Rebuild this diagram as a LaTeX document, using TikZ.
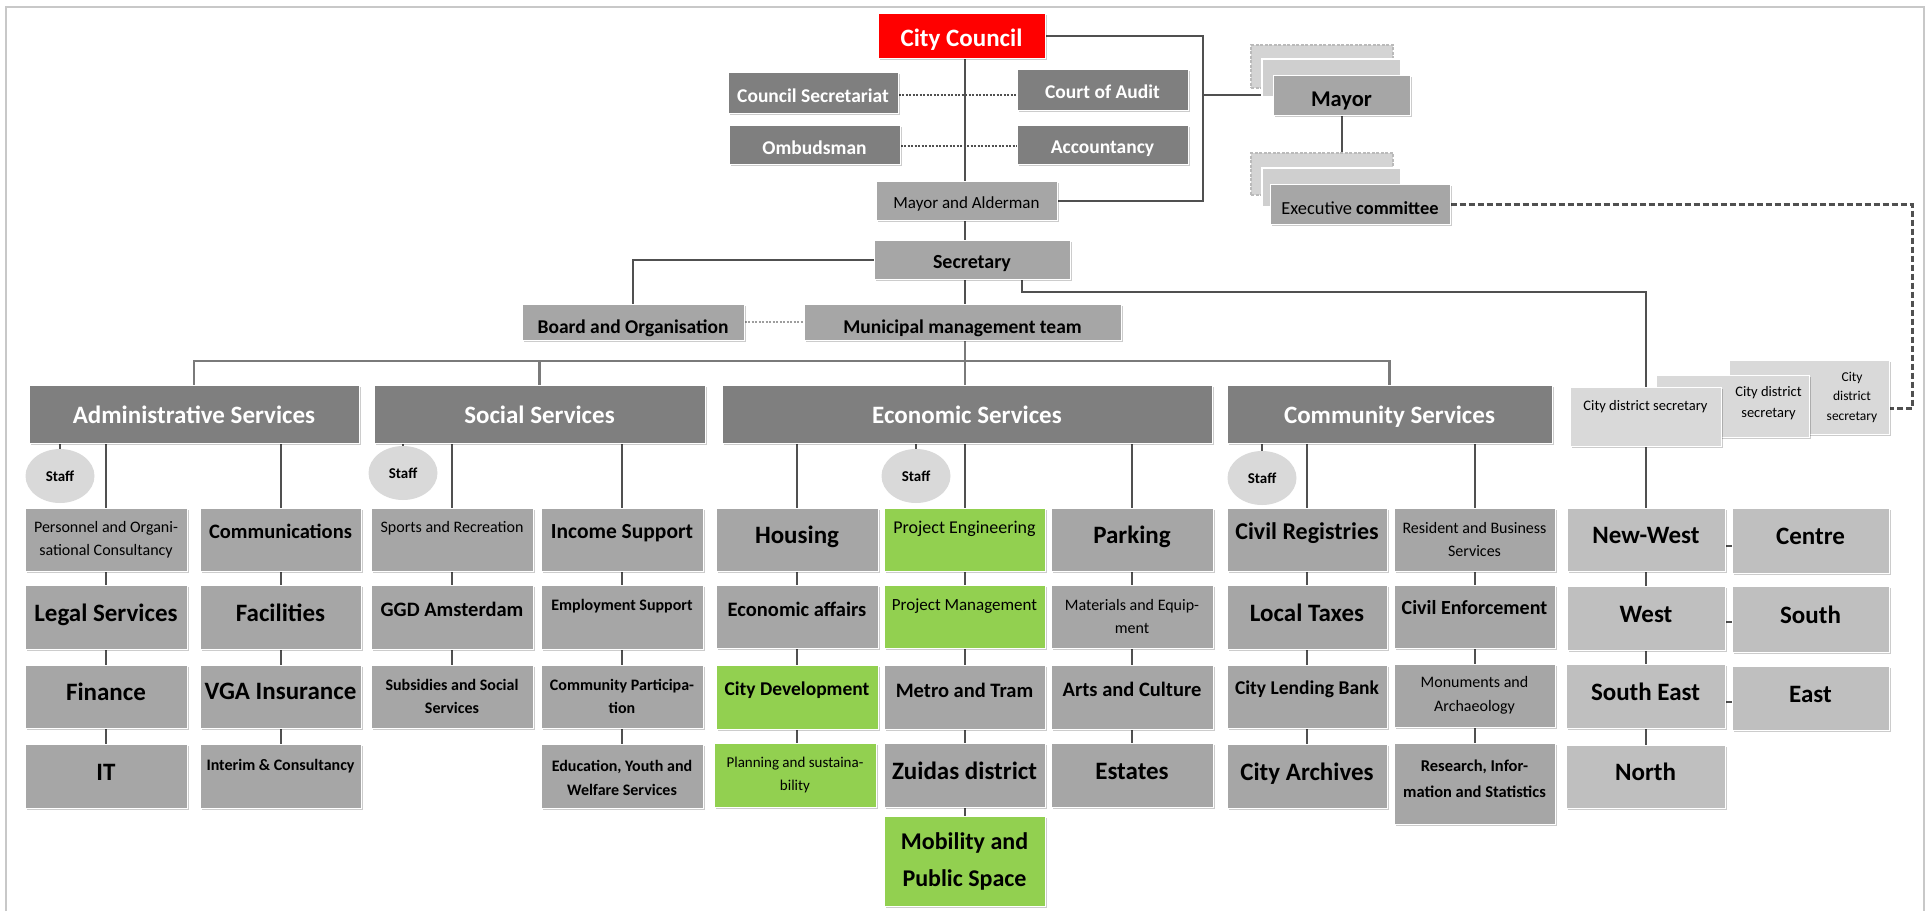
\documentclass[tikz,border=0pt]{standalone}
\usepackage{fontspec}
\setmainfont{Carlito}
\usetikzlibrary{shapes.geometric,shadows}
\pgfdeclarelayer{back}
\pgfsetlayers{back,main}

\definecolor{fillDark}{HTML}{7F7F7F}
\definecolor{fillMid}{HTML}{A6A6A6}
\definecolor{fillLight}{HTML}{BFBFBF}
\definecolor{fillPale}{HTML}{D9D9D9}
\definecolor{fillGreen}{HTML}{92D050}
\definecolor{fillRed}{HTML}{FF0000}
\definecolor{lineC}{HTML}{505050}
\definecolor{busC}{HTML}{7A7A7A}
\definecolor{frameC}{HTML}{C8C8C8}

% box drawn from its corners, with its label as a separate node shifted vertically
\newcommand\orgbox[9]{%
  \node[boxbase,#2,minimum width={#5-#3},minimum height={#6-#4}] (#1) at ({(#3+#5)/2},{(#4+#6)/2}) {};%
  \node[#7] (#1-t) at ([yshift=#8pt]#1.center) {#9};}
\newcommand\plainbox[6]{%
  \node[#2,minimum width={#5-#3},minimum height={#6-#4},inner sep=0pt] (#1) at ({(#3+#5)/2},{(#4+#6)/2}) {};}

\tikzset{
  boxbase/.style={rectangle,inner sep=0pt,draw=white,line width=1pt,
    drop shadow={shadow xshift=1.5pt,shadow yshift=-2pt,fill=black,opacity=.2}},
  cDark/.style={fill=fillDark},
  cMid/.style={fill=fillMid},
  cLight/.style={fill=fillLight},
  cPale/.style={fill=fillPale},
  cGreen/.style={fill=fillGreen},
  cRed/.style={fill=fillRed},
  stackback/.style={fill=black!17,draw=black!27,line width=1.2pt,dash pattern=on 3pt off 1.5pt},
  stackmid/.style={fill=black!19,draw=white,line width=1.5pt},
  tw/.style={text=white,inner sep=0pt},
  tb/.style={text=black,inner sep=0pt},
  ml/.style={align=center},
  % fonts (sizes in px of the drawing)
  fA/.style={font=\fontsize{25}{30}\selectfont\bfseries,text height=16pt,text depth=0pt},
  fA2/.style={font=\fontsize{24}{29}\selectfont\bfseries,text height=15.5pt,text depth=0pt},
  fB/.style={font=\fontsize{20.5}{25}\selectfont\bfseries,text height=13.2pt,text depth=0pt},
  fB2/.style={font=\fontsize{21.5}{26}\selectfont\bfseries,text height=13.8pt,text depth=0pt},
  fC/.style={font=\fontsize{19.5}{24}\selectfont\bfseries,text height=12.6pt,text depth=0pt},
  fD/.style={font=\fontsize{20}{24}\selectfont\bfseries,text height=12.9pt,text depth=0pt},
  fCC/.style={font=\fontsize{25}{30}\selectfont\bfseries,text height=16pt,text depth=0pt},
  fMA/.style={font=\fontsize{17}{21}\selectfont,text height=11pt,text depth=0pt},
  fMy/.style={font=\fontsize{22.5}{27}\selectfont\bfseries,text height=14.5pt,text depth=0pt},
  fE/.style={font=\fontsize{18.4}{22}\selectfont,text height=11.9pt,text depth=0pt},
  fPE/.style={font=\fontsize{18}{22}\selectfont,text height=11.6pt,text depth=0pt},
  fPM/.style={font=\fontsize{17}{21}\selectfont,text height=11pt,text depth=0pt},
  fS1/.style={font=\fontsize{16}{20}\selectfont,text height=10.3pt,text depth=0pt},
  fSb1/.style={font=\fontsize{16}{20}\selectfont\bfseries,text height=10.3pt,text depth=0pt},
  fS/.style={font=\fontsize{16}{23.5}\selectfont},
  fSb/.style={font=\fontsize{16}{23.5}\selectfont\bfseries},
  fR/.style={font=\fontsize{16.5}{26}\selectfont\bfseries},
  fP/.style={font=\fontsize{15}{23}\selectfont},
  fMob/.style={font=\fontsize{24}{37}\selectfont\bfseries},
  fT/.style={font=\fontsize{13.5}{19.5}\selectfont},
  fT2/.style={font=\fontsize{14.5}{21}\selectfont},
  fT1/.style={font=\fontsize{14.5}{18}\selectfont,text height=9.3pt,text depth=0pt},
  staffnode/.style={ellipse,fill=fillPale,minimum width=69pt,minimum height=54pt,inner sep=0pt,
    font=\fontsize{15}{18}\selectfont\bfseries},
  ln/.style={draw=lineC,line width=2pt},
  bus/.style={draw=busC,line width=2.6pt},
  dotl/.style={draw=lineC,line width=2pt,dash pattern=on 2pt off 1.5pt},
  dotlight/.style={draw=black!38,line width=2pt,dash pattern=on 2pt off 1.5pt},
  dsh/.style={draw=lineC,line width=3pt,dash pattern=on 6pt off 3pt},
}

\begin{document}
\begin{tikzpicture}[x=1pt,y=-1pt]
\useasboundingbox (0,0) rectangle (1930,911);

% ---- council level ----
\orgbox{cc}{cRed}{878}{13}{1045}{58}{tw,fCC}{-3}{City Council}
\orgbox{csec}{cDark}{728}{72}{898}{113}{tw,fC}{-4}{Council Secretariat}
\orgbox{audit}{cDark}{1017}{69}{1188}{110}{tw,fC}{-3}{Court of Audit}
\orgbox{omb}{cDark}{729}{125}{900}{164}{tw,fC}{-4}{Ombudsman}
\orgbox{acc}{cDark}{1017}{125}{1188}{164}{tw,fC}{-3}{Accountancy}
\orgbox{ma}{cMid}{876}{181}{1057}{220}{tb,fMA}{-2}{Mayor and Alderman}
\orgbox{sec}{cMid}{874}{240}{1070}{279}{tb,fD}{-3}{Secretary}

% ---- mayor and executive committee stacks ----
\plainbox{mback}{stackback}{1251}{45}{1393}{88}
\plainbox{mmid}{stackmid}{1262}{59}{1401}{97}
\orgbox{mayor}{cMid}{1273}{75}{1410}{115}{tb,fMy}{-4}{Mayor}
\plainbox{eback}{stackback}{1251}{153}{1393}{195}
\plainbox{emid}{stackmid}{1262}{168}{1401}{207}
\orgbox{exec}{cMid}{1270}{184}{1450}{224}{tb,fE}{-5}{Executive \textbf{committee}}

% ---- management ----
\orgbox{board}{cMid}{522}{304}{744}{340}{tb,fC}{-5}{Board and Organisation}
\orgbox{mmt}{cMid}{804}{304}{1121}{340}{tb,fC}{-5}{Municipal management team}

% ---- services ----
\orgbox{adm}{cDark}{29}{385}{359}{443}{tw,fA}{-1}{Administrative Services}
\orgbox{soc}{cDark}{374}{385}{705}{443}{tw,fA}{-1}{Social Services}
\orgbox{eco}{cDark}{722}{385}{1212}{443}{tw,fA}{-1}{Economic Services}
\orgbox{com}{cDark}{1227}{385}{1552}{443}{tw,fA}{-1}{Community Services}

% ---- city district secretaries ----
\orgbox{cds3}{cPale}{1729}{360}{1889}{434}{tb,fT,ml,xshift=43pt}{0}{City\\district\\secretary}
\orgbox{cds2}{cPale}{1656}{375}{1809}{437}{tb,fT2,ml,xshift=36pt}{3}{City district\\secretary}
\orgbox{cds1}{cPale}{1570}{387}{1721}{446}{tb,fT1}{11}{City district secretary}

% ---- staff ----
\node[staffnode] (st1) at (60,476) {Staff};
\node[staffnode] (st2) at (403,473) {Staff};
\node[staffnode] (st3) at (916,476) {Staff};
\node[staffnode] (st4) at (1262,478) {Staff};

% ---- administrative services ----
\orgbox{a1}{cMid}{25}{508}{187}{571}{tb,fS,ml}{0}{Personnel and Organi-\\sational Consultancy}
\orgbox{a2}{cMid}{25}{585}{187}{649}{tb,fA}{4}{Legal Services}
\orgbox{a3}{cMid}{25}{665}{187}{728}{tb,fA}{4}{Finance}
\orgbox{a4}{cMid}{25}{744}{187}{808}{tb,fA}{4}{IT}
\orgbox{b1}{cMid}{200}{508}{361}{571}{tb,fB}{8}{Communications}
\orgbox{b2}{cMid}{200}{585}{361}{649}{tb,fA}{4}{Facilities}
\orgbox{b3}{cMid}{200}{665}{361}{728}{tb,fA}{5}{VGA Insurance}
\orgbox{b4}{cMid}{200}{744}{361}{808}{tb,fSb1}{11}{Interim \& Consultancy}

% ---- social services ----
\orgbox{s1}{cMid}{371}{508}{533}{571}{tb,fS1}{12}{Sports and Recreation}
\orgbox{s2}{cMid}{371}{585}{533}{649}{tb,fB}{7}{GGD Amsterdam}
\orgbox{s3}{cMid}{371}{665}{533}{728}{tb,fSb,ml}{0}{Subsidies and Social\\Services}
\orgbox{t1}{cMid}{541}{508}{703}{571}{tb,fB2}{8}{Income Support}
\orgbox{t2}{cMid}{541}{585}{703}{649}{tb,fSb1}{12}{Employment Support}
\orgbox{t3}{cMid}{541}{665}{703}{728}{tb,fSb,ml}{0}{Community Participa-\\tion}
\orgbox{t4}{cMid}{541}{744}{703}{808}{tb,fSb,ml}{-2}{Education, Youth and\\Welfare Services}

% ---- economic services ----
\orgbox{e1}{cMid}{716}{508}{878}{571}{tb,fA}{4}{Housing}
\orgbox{e2}{cMid}{716}{585}{878}{648}{tb,fB}{7}{Economic affairs}
\orgbox{e3}{cGreen}{716}{665}{878}{729}{tb,fC}{8}{City Development}
\orgbox{e4}{cGreen}{714}{743}{876}{807}{tb,fP,ml}{0}{Planning and sustaina-\\bility}
\orgbox{f1}{cGreen}{884}{508}{1045}{571}{tb,fPE}{12}{Project Engineering}
\orgbox{f2}{cGreen}{884}{585}{1045}{648}{tb,fPM}{12}{Project Management}
\orgbox{f3}{cMid}{884}{665}{1045}{729}{tb,fB}{6}{Metro and Tram}
\orgbox{f4}{cMid}{884}{743}{1045}{807}{tb,fA}{4}{Zuidas district}
\orgbox{f5}{cGreen}{884}{816}{1045}{906}{tb,fMob,ml}{0}{Mobility and\\Public Space}
\orgbox{g1}{cMid}{1051}{508}{1213}{571}{tb,fA}{4}{Parking}
\orgbox{g2}{cMid}{1051}{585}{1213}{648}{tb,fS,ml}{0}{Materials and Equip-\\ment}
\orgbox{g3}{cMid}{1051}{665}{1213}{729}{tb,fB}{7}{Arts and Culture}
\orgbox{g4}{cMid}{1051}{743}{1213}{807}{tb,fA}{4}{Estates}

% ---- community services ----
\orgbox{h1}{cMid}{1227}{508}{1387}{571}{tb,fA2}{8}{Civil Registries}
\orgbox{h2}{cMid}{1227}{585}{1387}{649}{tb,fA}{4}{Local Taxes}
\orgbox{h3}{cMid}{1227}{665}{1387}{728}{tb,fC}{8}{City Lending Bank}
\orgbox{h4}{cMid}{1227}{744}{1387}{808}{tb,fA}{4}{City Archives}
\orgbox{k1}{cMid}{1394}{508}{1555}{571}{tb,fS,ml}{0}{Resident and Business\\Services}
\orgbox{k2}{cMid}{1394}{585}{1555}{648}{tb,fD}{8}{Civil Enforcement}
\orgbox{k3}{cMid}{1394}{664}{1555}{727}{tb,fS,ml}{0}{Monuments and\\Archaeology}
\orgbox{k4}{cMid}{1394}{743}{1555}{824}{tb,fR,ml}{5}{Research, Infor-\\mation and Statistics}

% ---- city districts ----
\orgbox{nw}{cLight}{1567}{508}{1725}{571}{tb,fA}{4}{New-West}
\orgbox{ce}{cLight}{1732}{508}{1889}{573}{tb,fA}{4}{Centre}
\orgbox{we}{cLight}{1567}{586}{1725}{650}{tb,fA}{4}{West}
\orgbox{so}{cLight}{1732}{586}{1889}{652}{tb,fA}{4}{South}
\orgbox{se}{cLight}{1566}{664}{1725}{728}{tb,fA}{4}{South East}
\orgbox{ea}{cLight}{1732}{666}{1889}{730}{tb,fA}{4}{East}
\orgbox{no}{cLight}{1566}{745}{1725}{808}{tb,fA}{4}{North}

\begin{pgfonlayer}{back}
  % page frame
  \draw[frameC,line width=2pt] (6,911) -- (6,7) -- (1924,7) -- (1924,911);

  % trunk and council links
  \coordinate (kx) at (965,0);
  \coordinate (jr) at (1203,95);
  \coordinate (ks) at (1022,292);
  \coordinate (kb) at (0,361);
  \coordinate (kd) at (1912,0);
  \draw[ln] (cc.south -| kx) -- (ma.north -| kx);
  \draw[ln] (ma.south -| kx) -- (sec.north -| kx);
  \draw[ln] (sec.south -| kx) -- (mmt.north -| kx);
  \draw[dotl] ([yshift=-2pt]csec.east) -- ([yshift=-2pt]csec.east -| audit.west);
  \draw[dotl] ([yshift=-1.5pt]omb.east) -- ([yshift=-1.5pt]omb.east -| acc.west);
  \draw[ln] (cc.east) -| (jr) |- (ma.east);
  \draw[ln] (jr) -- (jr -| mmid.west);
  \draw[ln] (mayor.south) -- (mayor.south |- exec.north);
  \draw[dsh] (exec.east) -- (exec.east -| kd) |- ([yshift=-11pt]cds3.east);

  % secretary links
  \draw[ln] (sec.west) -| (board.north);
  \draw[ln] (sec.south -| ks) -- (ks) -| (cds1.north);
  \draw[dotlight] (board.east) -- (mmt.west);

  % service bus
  \draw[bus] (mmt.south -| kx) -- (eco.north -| kx);
  \draw[bus] (adm.north) -- (adm.north |- kb) -- (com.north |- kb) -- (com.north);
  \draw[bus] (soc.north) -- (soc.north |- kb);

  % staff
  \foreach \s/\p in {st1/adm,st2/soc,st3/eco,st4/com}
    \draw[ln] (\s.north) -- (\s.north |- \p.south);

  % columns under services
  \foreach \c/\p in {a1/adm,b1/adm,s1/soc,t1/soc,e1/eco,f1/eco,g1/eco,h1/com,k1/com}
    \draw[ln] (\c.north) -- (\c.north |- \p.south);
  \foreach \u/\v in {a1/a2,a2/a3,a3/a4,b1/b2,b2/b3,b3/b4,s1/s2,s2/s3,t1/t2,t2/t3,t3/t4,
                     e1/e2,e2/e3,e3/e4,f1/f2,f2/f3,f3/f4,f4/f5,g1/g2,g2/g3,g3/g4,
                     h1/h2,h2/h3,h3/h4,k1/k2,k2/k3,k3/k4}
    \draw[ln] (\u.south) -- (\u.south |- \v.north);

  % city districts
  \draw[ln] (cds1.south) -- (cds1.south |- nw.north);
  \draw[ln] (nw.south) -- (nw.south |- we.north);
  \draw[ln] (we.south) -- (we.south |- se.north);
  \draw[ln] (se.south) -- (se.south |- no.north);
  \draw[ln] ([yshift=-6pt]nw.east) -- ([yshift=-6pt]nw.east -| ce.west);
  \draw[ln] ([yshift=-4pt]we.east) -- ([yshift=-4pt]we.east -| so.west);
  \draw[ln] ([yshift=-6pt]se.east) -- ([yshift=-6pt]se.east -| ea.west);
\end{pgfonlayer}
\end{tikzpicture}
\end{document}
